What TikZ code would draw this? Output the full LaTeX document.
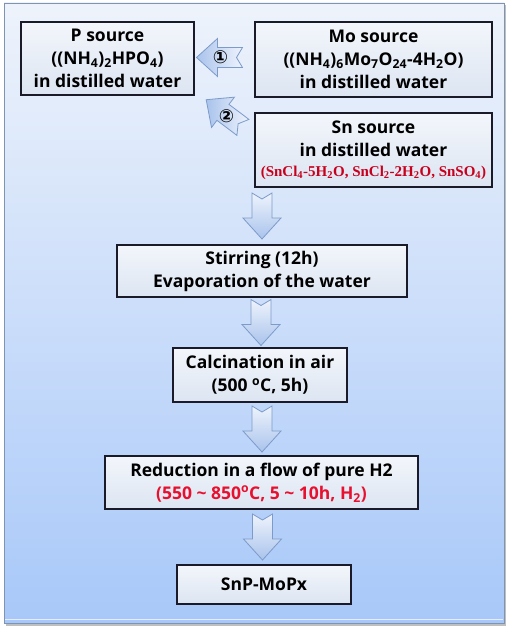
\documentclass[tikz,border=0pt]{standalone}
\usepackage{fontspec}
\setmainfont{Open Sans}
\newfontfamily\serifred{Liberation Serif}
\newfontfamily\symfont{DejaVu Sans}
\usetikzlibrary{calc}
\definecolor{bgtop}{HTML}{EEF3FB}
\definecolor{bgbot}{HTML}{A8C8F9}
\definecolor{frameline}{HTML}{7F93B3}
\definecolor{boxtop}{HTML}{F3F6FB}
\definecolor{boxbot}{HTML}{DCE5F2}
\definecolor{boxline}{HTML}{1A1A28}
\definecolor{arrline}{HTML}{7D9BC9}
\definecolor{arrlight}{HTML}{EEF3FC}
\definecolor{arrdark}{HTML}{A9C3EC}
\definecolor{redsans}{HTML}{E8102E}
\definecolor{redserif}{HTML}{C8001C}
\tikzset{
  box/.style={draw=boxline, line width=1.1pt, top color=boxtop, bottom color=boxbot,
    align=center, inner sep=0pt, font=\fontsize{17.5}{23}\selectfont\bfseries},
  arrowshade/.style={top color=arrlight, bottom color=arrdark},
  pics/blockarrow/.style={code={
    \draw[arrline, line width=0.8pt, arrowshade]
      (-23,-10) -- (2,-10) -- (2,-19) -- (23,0) -- (2,19) -- (2,10) -- (-23,10) -- (-17,0) -- cycle;
  }},
  numlabel/.style={font=\symfont\fontsize{18}{18}\selectfont\bfseries, inner sep=0pt}
}
\begin{document}
\begin{tikzpicture}[x=1pt,y=-1pt]
\useasboundingbox (0,0) rectangle (510,631);
% frame
\fill[black!25] (6,5) rectangle (506,626);
\draw[frameline, line width=0.9pt, top color=bgtop, bottom color=bgbot] (4,3) rectangle (504,623);
\draw[white!70!bgbot, line width=0.6pt] (5,619) -- (503,619);
% boxes
\node[box, minimum width=173pt, minimum height=73pt] (p) at (107.5,58.5)
  {P source\\((NH\textsubscript{4})\textsubscript{2}HPO\textsubscript{4})\\in distilled water};
\node[box, minimum width=237pt, minimum height=75pt] (mo) at (373.5,59.5)
  {Mo source\\((NH\textsubscript{4})\textsubscript{6}Mo\textsubscript{7}O\textsubscript{24}-4H\textsubscript{2}O)\\in distilled water};
\node[box, minimum width=237pt, minimum height=74pt] (sn) at (373.5,150)
  {Sn source\\in distilled water\\[-3pt]{\serifred\bfseries\fontsize{15}{16}\selectfont\color{redserif}(SnCl\textsubscript{4}-5H\textsubscript{2}O, SnCl\textsubscript{2}-2H\textsubscript{2}O, SnSO\textsubscript{4})}};
\node[box, minimum width=290pt, minimum height=52pt] (stir) at (262,271)
  {Stirring (12h)\\Evaporation of the water};
\node[box, minimum width=174pt, minimum height=54pt] (calc) at (260,375)
  {Calcination in air\\(500 \textsuperscript{o}C, 5h)};
\node[box, minimum width=313pt, minimum height=53pt] (red) at (261.5,482.5)
  {Reduction in a flow of pure H2\\{\color{redsans}(550 \textasciitilde{} 850\textsuperscript{o}C, 5 \textasciitilde{} 10h, H\textsubscript{2})}};
\node[box, minimum width=174pt, minimum height=39pt] (snp) at (264,584.5) {SnP-MoPx};
% side arrows
\coordinate (a1) at ($(p.east)!0.5!(mo.west)+(-5,-1.5)$);
\pic[rotate=180, arrowshade/.style={left color=arrdark, right color=arrlight}] at (a1) {blockarrow};
\node[numlabel] at ($(a1)+(1,0)$) {①};
\coordinate (a2) at ($(p.south east)+(30,18)$);
\pic[rotate=143, arrowshade/.style={left color=arrdark, right color=arrlight}] at (a2) {blockarrow};
\node[numlabel] at ($(a2)+(2,3)$) {②};
% down arrows
\pic[rotate=-90] at ($(stir.north)!0.5!(stir.north|-sn.south)$) {blockarrow};
\pic[rotate=-90] at ($(stir.south)!0.5!(calc.north)$) {blockarrow};
\pic[rotate=-90] at ($(calc.south)!0.5!(calc.south|-red.north)+(2,0)$) {blockarrow};
\pic[rotate=-90] at ($(red.south)!0.5!(red.south|-snp.north)+(1,0)$) {blockarrow};
\end{tikzpicture}
\end{document}
